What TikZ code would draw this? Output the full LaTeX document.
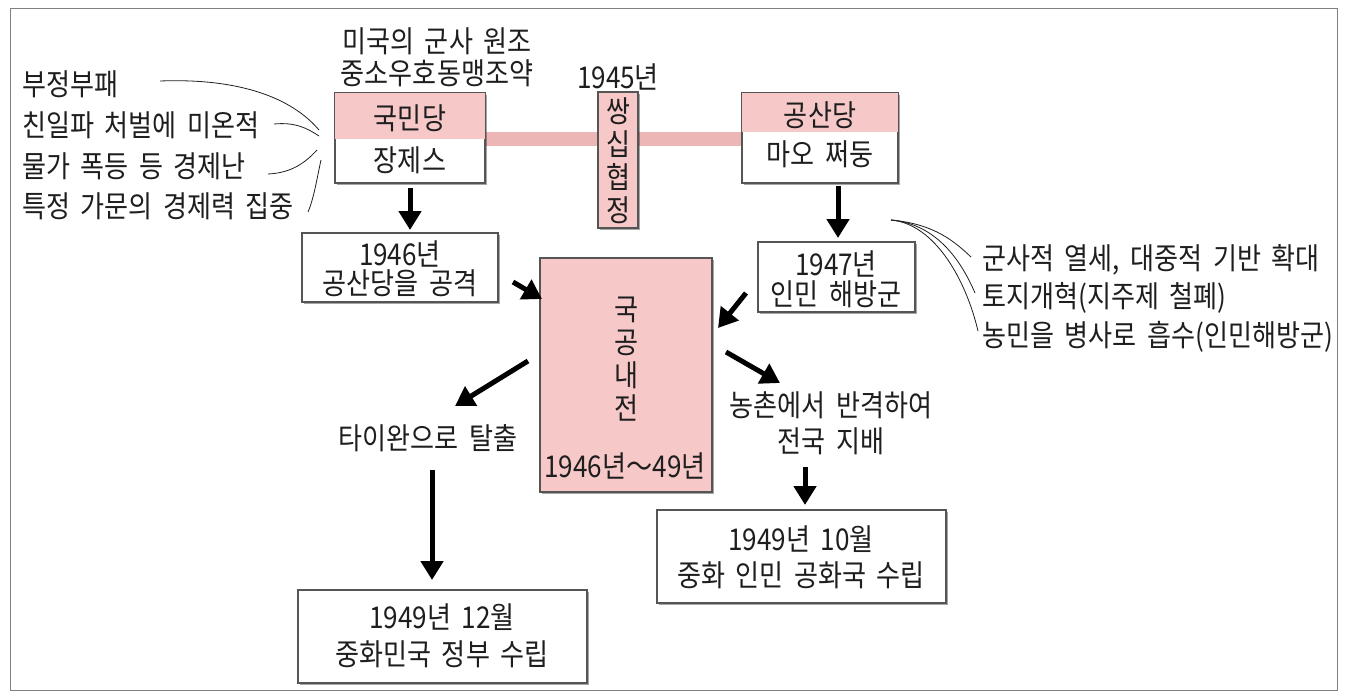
\documentclass[tikz,border=0pt]{standalone}
\usepackage{fontspec}
\setmainfont{Noto Sans CJK KR}[FakeStretch=0.87,WordSpace=1.8]
\usetikzlibrary{arrows.meta,shadows}
\definecolor{pinkc}{RGB}{246,200,200}
\definecolor{bandc}{RGB}{236,182,182}
\definecolor{edgec}{RGB}{85,85,85}
\definecolor{txtc}{RGB}{30,30,30}
\tikzset{
  lbl/.style={inner sep=0pt, font=\fontsize{30}{33}\selectfont, text=txtc},
  box/.style={draw=edgec, line width=2.5pt, fill=white, inner sep=0pt,
    drop shadow={shadow xshift=2pt, shadow yshift=-2pt, opacity=0.35, fill=black}},
  pbox/.style={box, fill=pinkc},
  bigarrow/.style={line width=5pt, -{Triangle[length=19pt,width=22pt]}},
  thin/.style={line width=0.8pt, draw=txtc}
}
\begin{document}
\begin{tikzpicture}[x=1pt,y=-1pt]
\useasboundingbox (0,0) rectangle (1347,699);
\draw[black!50, line width=1pt] (10,8) rectangle (1337,690);

% band
\fill[bandc] (485,132) rectangle (598,146);
\fill[bandc] (638,132) rectangle (742,146);

% KMT box
\node[box, minimum width=150pt, minimum height=90pt] (kmt) at (410,138) {};
\fill[pinkc] ([shift={(1.25pt,-1.25pt)}]kmt.north west) rectangle ([shift={(-1.25pt,-47pt)}]kmt.north east);
\node[lbl] (kmtA) at (410,118) {국민당};
\node[lbl] (kmtB) at (410,160) {장제스};

% CCP box
\node[box, minimum width=156pt, minimum height=90pt] (ccp) at (820,138) {};
\fill[pinkc] ([shift={(1.25pt,-1.25pt)}]ccp.north west) rectangle ([shift={(-1.25pt,-40pt)}]ccp.north east);
\node[lbl] (ccpA) at (820,115) {공산당};
\node[lbl] (ccpB) at (820,154) {마오 쩌둥};

% Double Ten agreement
\node[pbox, minimum width=40pt, minimum height=136pt] (ssb) at (618,160) {};
\node[lbl, align=center, font=\fontsize{30}{33}\selectfont] (sst) at (618,161) {쌍\\십\\협\\정};
\node[lbl] (y45) at (618,77) {1945년};

% top texts
\node[lbl] (us1) at (437,41) {미국의 군사 원조};
\node[lbl] (us2) at (437,73) {중소우호동맹조약};

% left texts
\node[lbl, anchor=west] (l1) at (22,84) {부정부패};
\node[lbl, anchor=west] (l2) at (22,125) {친일파 처벌에 미온적};
\node[lbl, anchor=west] (l3) at (22,166) {물가 폭등 등 경제난};
\node[lbl, anchor=west] (l4) at (22,206) {특정 가문의 경제력 집중};
\coordinate (lc1s) at (160,81);
\coordinate (lc1e) at (319,130);
\coordinate (lc2s) at (274,124);
\coordinate (lc2e) at (319,136);
\coordinate (lc3s) at (268,174);
\coordinate (lc3e) at (317,150);
\coordinate (lc4s) at (308,212);
\coordinate (lc4e) at (321,160);
\draw[thin] (lc1s) .. controls (240,78) and (292,98) .. (lc1e);
\draw[thin] (lc2s) .. controls (295,122) and (307,128) .. (lc2e);
\draw[thin] (lc3s) .. controls (292,173) and (306,162) .. (lc3e);
\draw[thin] (lc4s) .. controls (314,198) and (317,178) .. (lc4e);

% 1946 box
\node[box, minimum width=196pt, minimum height=69pt] (e46) at (400,267.5) {};
\node[lbl] (e46a) at (400,254) {1946년};
\node[lbl] (e46b) at (400,283) {공산당을 공격};

% 1947 box
\node[box, minimum width=157pt, minimum height=70pt] (e47) at (836.5,277) {};
\node[lbl] (e47a) at (836,264) {1947년};
\node[lbl] (e47b) at (836,294) {인민 해방군};

% right texts
\node[lbl, anchor=west] (r1) at (982,260) {군사적 열세, 대중적 기반 확대};
\node[lbl, anchor=west] (r2) at (982,298) {토지개혁(지주제 철폐)};
\node[lbl, anchor=west] (r3) at (982,337) {농민을 병사로 흡수(인민해방군)};
\coordinate (rcs) at (891,220);
\coordinate (rc1) at (971,257);
\coordinate (rc2) at (975,293);
\coordinate (rc3) at (978,331);
\draw[thin] (rcs) .. controls (935,224) and (955,242) .. (rc1);
\draw[thin] (rcs) .. controls (935,224) and (960,258) .. (rc2);
\draw[thin] (rcs) .. controls (935,224) and (966,280) .. (rc3);

% civil war box
\node[pbox, minimum width=172pt, minimum height=234pt] (cw) at (626,375) {};
\node[lbl, align=center, font=\fontsize{30}{33}\selectfont] (cwt) at (626,359) {국\\공\\내\\전};
\node[lbl] (cwy) at (625,466) {1946년～49년};

% outcomes
\node[lbl] (tw) at (428,438) {타이완으로 탈출};
\node[lbl, align=center, font=\fontsize{30}{36}\selectfont] (rural) at (831,423) {농촌에서 반격하여\\전국 지배};

\node[box, minimum width=289pt, minimum height=93pt] (e4912) at (442.5,636.5) {};
\node[lbl] (e4912a) at (442,617) {1949년 12월};
\node[lbl] (e4912b) at (442,654) {중화민국 정부 수립};

\node[box, minimum width=289pt, minimum height=93pt] (e4910) at (801.5,556.5) {};
\node[lbl] (e4910a) at (801,539) {1949년 10월};
\node[lbl] (e4910b) at (801,575) {중화 인민 공화국 수립};

% arrows
\coordinate (a1s) at (410,188); \coordinate (a1e) at (410,230);
\coordinate (a2s) at (838,186); \coordinate (a2e) at (838,238);
\coordinate (a3s) at (513,282); \coordinate (a3e) at (542,299);
\coordinate (a4s) at (746,293); \coordinate (a4e) at (718,328);
\coordinate (a5s) at (528,361); \coordinate (a5e) at (455,406);
\coordinate (a6s) at (726,352); \coordinate (a6e) at (780,383);
\coordinate (a7s) at (432,470); \coordinate (a7e) at (432,580);
\coordinate (a8s) at (805,467); \coordinate (a8e) at (805,505);
\draw[bigarrow] (a1s) -- (a1e);
\draw[bigarrow] (a2s) -- (a2e);
\draw[bigarrow] (a3s) -- (a3e);
\draw[bigarrow] (a4s) -- (a4e);
\draw[bigarrow] (a5s) -- (a5e);
\draw[bigarrow] (a6s) -- (a6e);
\draw[bigarrow] (a7s) -- (a7e);
\draw[bigarrow] (a8s) -- (a8e);
\end{tikzpicture}
\end{document}
